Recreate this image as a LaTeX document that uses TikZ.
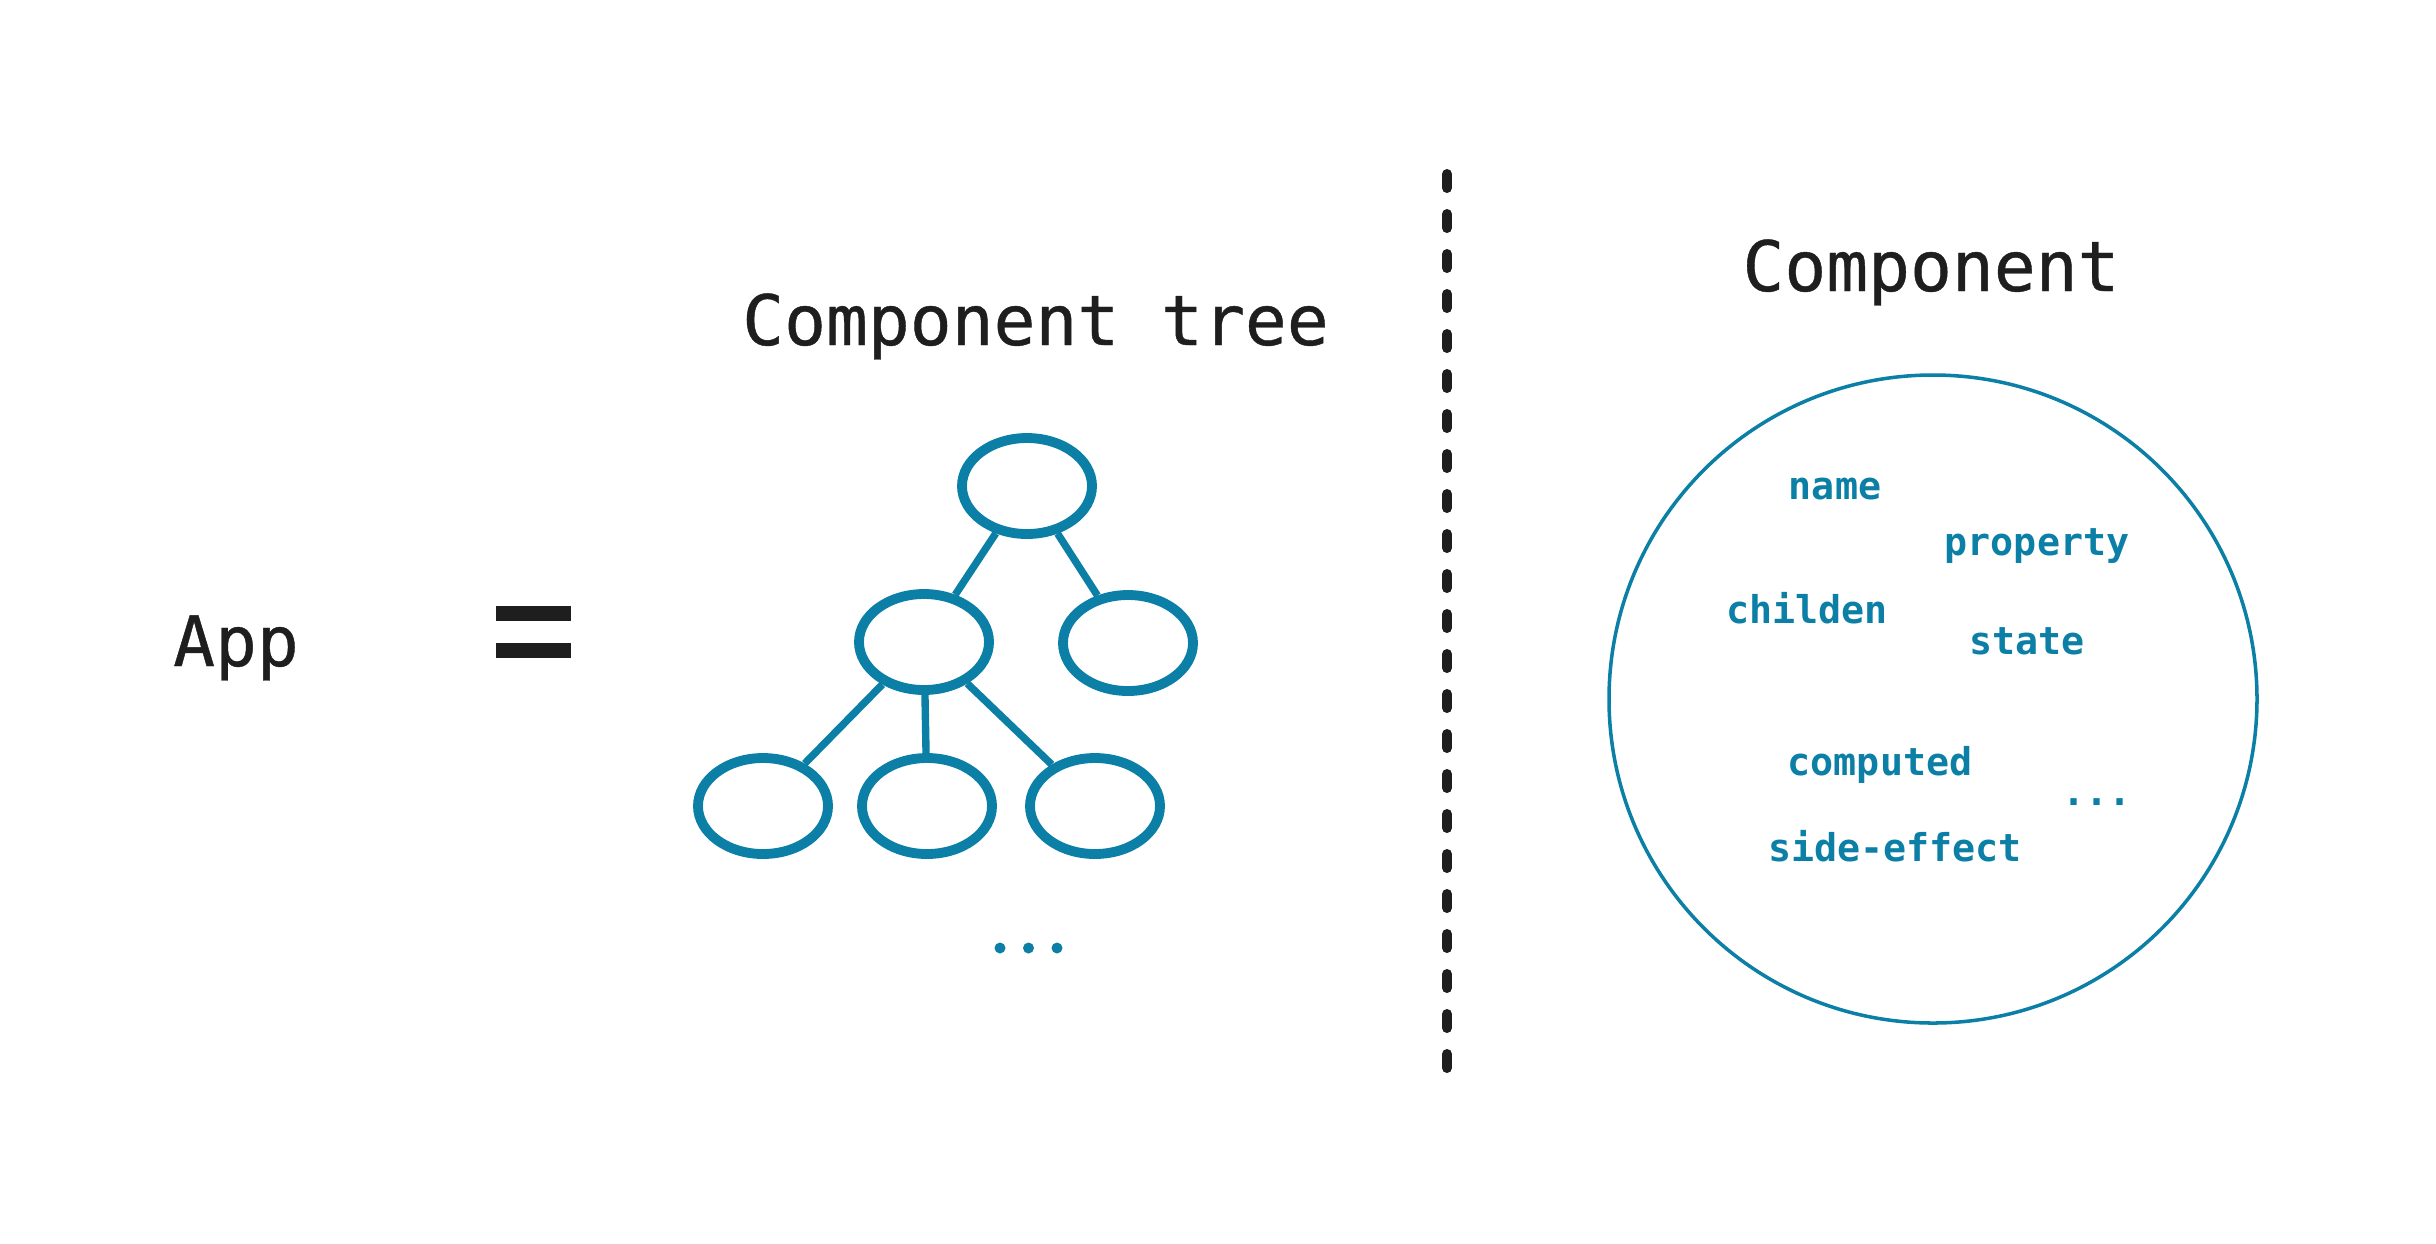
\documentclass[tikz,border=0pt]{standalone}
\usepackage{fontspec}
\setmonofont{DejaVu Sans Mono}
\newfontfamily\headfont[FakeBold=0.6]{DejaVu Sans Mono}
\usetikzlibrary{shapes.geometric, positioning}

\definecolor{inkblue}{RGB}{11,127,166}
\definecolor{inkdark}{RGB}{30,30,30}

\begin{document}
\begin{tikzpicture}[
    node distance=1.6cm, on grid,
    heading/.style={font=\headfont\fontsize{19.8}{22}\selectfont, text=inkdark, anchor=base, inner sep=0pt},
    treenode/.style={ellipse, draw=inkblue, line width=2.8pt, minimum width=1.30cm, minimum height=0.96cm, inner sep=0pt},
    treeline/.style={draw=inkblue, line width=2.1pt},
    field/.style={font=\ttfamily\bfseries\fontsize{10.9}{13}\selectfont, text=inkblue, anchor=base, inner sep=0pt},
    divider/.style={draw=inkdark, line width=2.85pt, line cap=round, dash pattern=on 0.14cm off 0.26cm}
]
\useasboundingbox (0,0) rectangle (24.36,-12.43);

% left side
\node [heading] (app) at (2.36,-6.66) {App};
\fill [inkdark] (4.96,-6.06) rectangle (5.71,-6.21);
\fill [inkdark] (4.96,-6.43) rectangle (5.71,-6.58);

% component tree
\node [heading] (treetitle) at (10.355,-3.45) {Component tree};
\node [treenode] (root) at (10.27,-4.86) {};
\node [treenode, below left=1.56cm and 1.03cm of root] (midleft) {};
\node [treenode, below right=1.57cm and 1.01cm of root] (midright) {};
\node [treenode, below=1.64cm of midleft, xshift=0.03cm] (botmid) {};
\node [treenode, left=1.64cm of botmid] (botleft) {};
\node [treenode, right=1.68cm of botmid] (botright) {};
\foreach \dx in {-0.285, 0, 0.285}
    \fill [inkblue] (10.285+\dx,-9.48) circle (0.055);

\path [treeline] (root) -- (midleft);
\path [treeline] (root) -- (midright);
\path [treeline] (midleft) -- (botleft);
\path [treeline] (midleft) -- (botmid);
\path [treeline] (midleft) -- (botright);

% divider
\coordinate (divtop) at (14.47,-1.74);
\coordinate (divbot) at (14.47,-10.68);
\path [divider] (divtop) -- (divbot);

% single component
\node [heading] (comptitle) at (19.31,-2.91) {Component};
\node [circle, draw=inkblue, line width=1pt, minimum size=6.48cm, inner sep=0pt] (comp) at (19.33,-6.99) {};
\node [field] (name) at (18.35,-4.99) {name};
\node [field] (property) at (20.37,-5.55) {property};
\node [field] (childen) at (18.07,-6.23) {childen};
\node [field] (state) at (20.27,-6.54) {state};
\node [field] (computed) at (18.80,-7.75) {computed};
\node [field] (sideeffect) at (18.95,-8.61) {side-effect};
\node [field] (compmore) at (20.97,-8.05) {...};

\end{tikzpicture}
\end{document}
